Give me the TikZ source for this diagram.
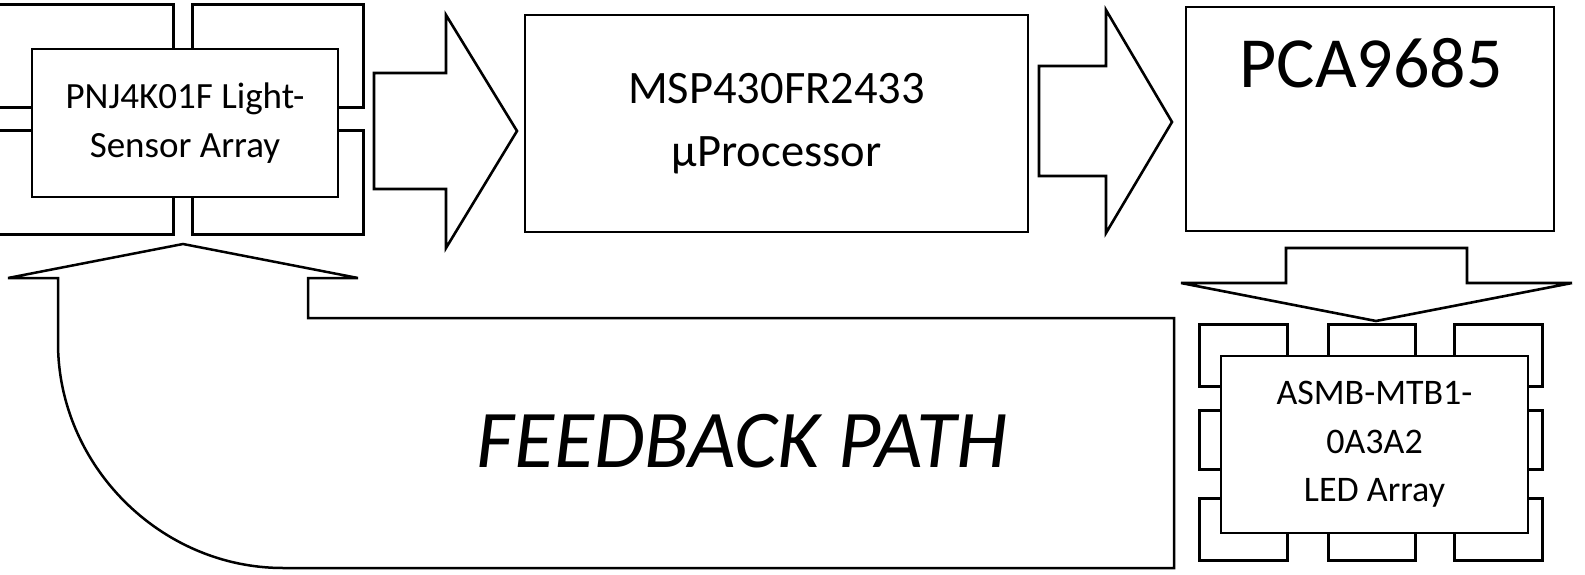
\documentclass[tikz,border=0pt]{standalone}
\usepackage{fontspec}
\setmainfont{Carlito}
\begin{document}
\begin{tikzpicture}[x=1pt,y=-1pt,
  pad/.style={draw, line width=3pt, fill=white},
  box/.style={draw, line width=1.6pt, fill=white, inner sep=0pt, align=center},
  bigarrow/.style={draw, line width=2.6pt, line join=miter, fill=white},
  lbl/.style={inner sep=0pt, align=center}]
\clip (0,0) rectangle (1585,575);
\fill[white] (0,0) rectangle (1585,575);
% sensor pads
\draw[pad] (-3,5) rectangle (173,108);
\draw[pad] (192,5) rectangle (363,108);
\draw[pad] (-3,131) rectangle (173,234);
\draw[pad] (192,131) rectangle (363,234);
\node[box, minimum width=306, minimum height=148, font=\fontsize{37}{49}\selectfont] (sensor) at (185,123) {PNJ4K01F Light-\\Sensor Array};
% arrow 1
\draw[bigarrow] (374,73) -- (446,73) -- (446,15) -- (517,131) -- (446,248) -- (446,189) -- (374,189) -- cycle;
% MSP
\node[box, minimum width=503, minimum height=217, font=\fontsize{46.5}{63}\selectfont] (msp) at (776.5,123.5) {MSP430FR2433\\μProcessor};
% arrow 2
\draw[bigarrow] (1039,66) -- (1106,66) -- (1106,10) -- (1172,122) -- (1106,233) -- (1106,176) -- (1039,176) -- cycle;
% PCA
\node[box, minimum width=368, minimum height=224] (pca) at (1370,119) {};
\node[lbl, anchor=base, font=\fontsize{72}{80}\selectfont] (pcatext) at (1371,88) {PCA9685};
% down arrow
\draw[bigarrow] (1286,248) -- (1467,248) -- (1467,283) -- (1572,283) -- (1376,321) -- (1181,283) -- (1286,283) -- cycle;
% LED pads
\draw[pad] (1199,324) rectangle (1287,386);
\draw[pad] (1328,324) rectangle (1415,386);
\draw[pad] (1454,324) rectangle (1542,386);
\draw[pad] (1199,410) rectangle (1287,469);
\draw[pad] (1454,410) rectangle (1542,469);
\draw[pad] (1199,498) rectangle (1287,560);
\draw[pad] (1328,498) rectangle (1415,560);
\draw[pad] (1454,498) rectangle (1542,560);
\node[box, minimum width=307, minimum height=177, font=\fontsize{36}{48.5}\selectfont] (led) at (1374.5,444.5) {ASMB-MTB1-\\0A3A2\\LED Array};
% feedback arrow
\draw[bigarrow, line width=2.5pt] (183,244) -- (358,278) -- (308,278) -- (308,318) -- (1174,318) -- (1174,568) -- (283,568) .. controls (160,568) and (58,465) .. (58,343) -- (58,278) -- (8,278) -- cycle;
\node[lbl, anchor=base, font=\fontsize{82}{96}\selectfont\itshape] (fb) at (742,467) {FEEDBACK PATH};
\end{tikzpicture}
\end{document}
